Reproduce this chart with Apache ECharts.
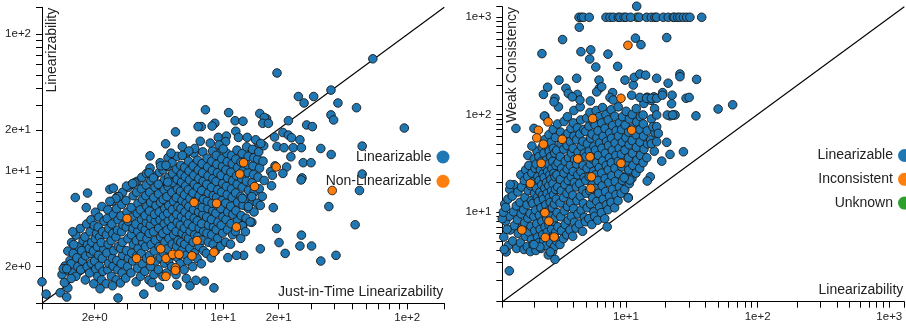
<!DOCTYPE html>
<html><head><meta charset="utf-8">
<script src="https://cdn.jsdelivr.net/npm/echarts@6/dist/echarts.min.js"></script>
<style>html,body{margin:0;padding:0;background:#fff}#c{width:906px;height:328px}</style>
</head><body><div id="c"></div>
<script>
// ---------- axis ranges & ticks ----------
const leftXRange = [1.035, 159];
const leftYRange = [1.08, 157];
const rightXRange = [1.15, 1300];
const rightYRange = [1.19, 1285];

const leftTickValues = [2,3,4,5,6,7,8,9,10,20,30,40,50,60,70,80,90,100];
const leftLabelValues = [2,10,20,100];
const leftLabelTexts = ['2e+0','1e+1','2e+1','1e+2'];
const rightTickValues = [2,3,4,5,6,7,8,9,10,20,30,40,50,60,70,80,90,100,200,300,400,500,600,700,800,900,1000];
const rightLabelValues = [10,100,1000];
const rightLabelTexts = ['1e+1','1e+2','1e+3'];

const leftCategories = ['Linearizable','Non-Linearizable'];
const rightCategories = ['Linearizable','Inconsistent','Unknown'];

// ---------- left chart data: [Just-in-Time Linearizability, Linearizability] ----------
const leftLinCore = [
[1.33,1.75],[1.38,2.02],[1.44,1.86],[1.47,2.22],[1.43,2.6],
[1.52,1.8],[1.49,2.1],[1.53,2.5],[1.5,3.0],
[1.58,1.7],[1.62,2.0],[1.6,2.32],[1.63,2.8],[1.58,3.4],
[1.68,1.9],[1.72,2.2],[1.7,2.62],[1.73,3.1],[1.67,3.8],
[1.78,1.6],[1.82,2.0],[1.79,2.4],[1.83,2.9],[1.77,3.3],[1.81,4.1],
[1.88,1.8],[1.92,2.12],[1.9,2.5],[1.87,2.72],[1.93,3.02],[1.89,3.6],[1.91,4.4],
[1.98,1.5],[2.03,1.92],[2.0,2.2],[1.97,2.6],[2.02,3.2],[2.05,3.5],[1.99,4.0],[2.02,5.0],
[2.08,1.7],[2.12,2.02],[2.1,2.42],[2.07,2.8],[2.13,3.3],[2.09,3.9],[2.11,4.6],
[2.18,1.6],[2.22,1.85],[2.2,2.3],[2.24,2.7],[2.17,3.0],[2.21,3.6],[2.25,4.3],[2.19,5.5],
[2.31,1.5],[2.36,1.9],[2.38,2.12],[2.33,2.52],[2.37,2.92],[2.32,3.42],[2.39,3.8],[2.34,4.5],[2.36,5.2],
[2.47,1.7],[2.52,2.02],[2.5,2.3],[2.54,2.62],[2.46,3.1],[2.51,3.5],[2.48,4.1],[2.53,4.8],[2.5,6.0],
[2.62,1.6],[2.67,1.9],[2.64,2.22],[2.69,2.8],[2.61,3.3],[2.66,3.7],[2.68,4.4],[2.63,5.3],[2.66,6.5],
[2.76,1.52],[2.82,1.8],[2.79,2.1],[2.84,2.42],[2.77,2.72],[2.83,3.02],[2.8,3.6],[2.85,4.02],[2.78,4.7],[2.81,5.7],[2.84,7.0],
[2.95,1.65],[3.02,2.0],[3.05,2.3],[2.98,2.62],[3.03,3.2],[2.97,3.9],[3.04,4.3],[3.0,5.0],[2.96,6.1],[3.05,7.6],
[3.15,1.8],[3.22,2.2],[3.18,2.52],[3.25,2.9],[3.17,3.42],[3.23,3.8],[3.2,4.6],[3.16,5.4],[3.24,6.6],[3.19,8.0],
[3.36,1.55],[3.42,1.95],[3.39,2.4],[3.45,2.72],[3.37,3.1],[3.43,3.62],[3.35,4.1],[3.41,4.9],[3.44,5.8],[3.38,7.0],[3.4,8.4],
[3.55,1.7],[3.63,2.1],[3.58,2.5],[3.65,3.0],[3.56,3.32],[3.62,3.9],[3.6,4.42],[3.54,5.2],[3.64,6.2],[3.59,7.4],[3.61,9.0],
[3.75,1.85],[3.83,2.3],[3.78,2.8],[3.85,3.2],[3.77,3.72],[3.82,4.2],[3.76,4.72],[3.84,5.5],[3.79,6.6],[3.81,7.9],
[3.95,1.6],[4.04,2.0],[3.98,2.42],[4.06,2.9],[3.96,3.5],[4.02,4.02],[4.05,4.5],[3.97,5.1],[4.03,5.9],[3.99,7.0],[4.04,8.5],[4.0,10.5],
[4.2,1.75],[4.3,2.2],[4.22,2.6],[4.28,3.12],[4.18,3.6],[4.27,4.3],[4.23,4.82],[4.31,5.6],[4.19,6.4],[4.26,7.6],[4.24,9.2],
[4.44,1.9],[4.55,2.32],[4.48,2.8],[4.57,3.3],[4.46,3.82],[4.53,4.4],[4.49,5.02],[4.56,5.9],[4.45,6.8],[4.52,8.0],[4.5,9.8],[4.54,11.5],
[4.7,1.7],[4.8,2.12],[4.73,2.52],[4.82,3.02],[4.69,3.5],[4.78,4.12],[4.74,4.7],[4.81,5.32],[4.72,6.2],[4.77,7.3],[4.79,8.6],[4.71,10.2],
[4.93,1.8],[5.05,2.22],[4.98,2.7],[5.07,3.22],[4.95,3.7],[5.03,4.32],[4.99,4.92],[5.06,5.6],[4.94,6.5],[5.02,7.7],[5.04,9.0],[4.97,10.8],[5.01,12.5],
[5.24,2.0],[5.36,2.42],[5.28,2.92],[5.38,3.42],[5.25,3.92],[5.33,4.5],[5.29,5.22],[5.37,6.0],[5.26,7.0],[5.34,8.2],[5.31,9.6],[5.27,11.5],
[5.54,1.75],[5.66,2.32],[5.58,2.82],[5.68,3.1],[5.55,3.62],[5.63,4.22],[5.59,4.82],[5.67,5.5],[5.56,6.4],[5.64,7.4],[5.61,8.7],[5.57,10.3],[5.62,12.8],
[5.83,2.1],[5.96,2.62],[5.88,3.02],[5.98,3.52],[5.85,4.02],[5.93,4.62],[5.89,5.32],[5.97,6.1],[5.86,7.1],[5.94,8.3],[5.91,9.5],[5.87,11.0],
[6.13,1.9],[6.27,2.42],[6.18,2.92],[6.29,3.32],[6.15,3.82],[6.24,4.42],[6.2,5.02],[6.28,5.8],[6.16,6.7],[6.25,7.8],[6.22,9.1],[6.17,10.6],[6.23,13.0],
[6.42,2.2],[6.58,2.72],[6.48,3.22],[6.6,3.62],[6.44,4.12],[6.55,4.72],[6.5,5.5],[6.59,6.3],[6.46,7.3],[6.56,8.6],[6.52,10.0],[6.47,11.8],
[6.82,2.0],[6.98,2.52],[6.87,3.02],[7.0,3.42],[6.84,3.92],[6.95,4.52],[6.9,5.22],[6.99,6.0],[6.85,6.9],[6.96,8.0],[6.92,9.3],[6.86,10.9],[6.94,13.5],
[7.21,2.3],[7.39,2.82],[7.27,3.32],[7.41,3.82],[7.23,4.32],[7.35,5.02],[7.3,5.7],[7.4,6.6],[7.25,7.6],[7.37,8.8],[7.32,10.2],[7.26,12.0],
[7.6,2.1],[7.8,2.62],[7.66,3.12],[7.82,3.62],[7.63,4.12],[7.76,4.82],[7.7,5.42],[7.81,6.2],[7.64,7.2],[7.78,8.4],[7.72,9.7],[7.67,11.3],[7.74,13.8],
[8.1,2.5],[8.3,3.02],[8.16,3.52],[8.32,4.02],[8.13,4.62],[8.26,5.32],[8.2,6.02],[8.31,6.9],[8.14,8.0],[8.27,9.2],[8.22,10.7],[8.17,12.4],
[8.6,2.32],[8.82,2.92],[8.66,3.42],[8.85,3.92],[8.63,4.42],[8.78,5.12],[8.7,5.82],[8.83,6.6],[8.64,7.6],[8.79,8.8],[8.73,10.1],[8.67,11.8],[8.75,14.0],
[9.1,2.62],[9.33,3.22],[9.16,3.72],[9.36,4.22],[9.12,4.92],[9.28,5.62],[9.2,6.42],[9.34,7.3],[9.14,8.4],[9.3,9.7],[9.23,11.2],[9.17,13.0],
[9.68,2.82],[9.93,3.52],[9.75,4.02],[9.96,4.62],[9.71,5.32],[9.88,6.12],[9.8,7.02],[9.94,8.1],[9.73,9.3],[9.9,10.8],[9.82,12.3],[9.77,14.5],
[10.3,3.02],[10.55,3.72],[10.36,4.42],[10.58,5.02],[10.32,5.82],[10.5,6.72],[10.4,7.72],[10.56,8.9],[10.34,10.2],[10.52,11.7],[10.44,13.5],
[10.95,2.92],[11.25,3.42],[11.02,4.12],[11.28,4.82],[10.98,5.52],[11.18,6.42],[11.1,7.42],[11.26,8.5],[11.0,9.8],[11.2,11.3],[11.12,13.0],
[11.65,3.62],[11.95,4.32],[11.72,5.12],[11.98,5.92],[11.68,6.92],[11.9,8.02],[11.8,9.22],[11.96,10.6],[11.7,12.2],[11.88,14.2],
[12.45,3.22],[12.78,4.02],[12.52,4.72],[12.8,5.62],[12.48,6.52],[12.7,7.62],[12.6,8.82],[12.76,10.0],[12.5,11.6],[12.68,13.4],
[13.3,4.52],[13.7,5.32],[13.42,6.22],[13.72,7.22],[13.35,8.42],[13.6,9.72],[13.5,11.1],[13.66,12.8],[13.4,15.0],
[14.3,4.22],[14.7,5.02],[14.4,6.02],[14.72,7.02],[14.35,8.22],[14.6,9.42],[14.5,10.9],[14.66,12.5],[14.42,14.4],
[15.3,5.82],[15.7,7.42],[15.45,9.02],[15.75,10.5],[15.4,12.2],[15.6,13.8],[15.55,16.0],
[16.3,6.52],[16.7,8.52],[16.45,11.8],[16.6,15.3]
];
const leftLinOutliers = [
[65,66],[19.6,52],[38.5,39],[25.6,35],[31,35],[27.5,31.4],[42,31.4],[53,29],[8,28],[10.7,26.7],[15.8,26.3],[38.5,25.7],
[39.8,23.6],[22.6,23.3],[17.2,24.1],[16.7,24.6],[16.4,22.3],[17.6,22.3],[11.6,23.3],[12.8,23.1],[9.0,22.3],[8.7,21.3],[7.6,21.1],[7.3,21.1],
[28.4,21.7],[30.5,21.1],[96.4,20.6],[5.5,19.3],[11.7,19.5],[19.0,17.7],[21.1,19.1],[22.6,18.3],[23.5,17.5],[26.1,16.9],
[4.86,15.8],[5.99,15.1],[7.0,14.6],[9.4,17.6],[10.4,18.0],[10.3,16.4],[12.1,17.6],[13.5,17.6],[15.0,16.9],[16.0,15.9],
[19.6,15.1],[21.4,14.8],[24.0,14.8],[26.6,14.8],[33.9,14.6],[56.9,15.2],[38.6,13.2],[23.3,12.7],[27.2,11.5],[30.0,11.5],
[22.1,10.7],[19.1,10.9],[21.1,9.6],[18.1,9.9],[18.5,9.3],[18.3,7.8],[56.9,9.5],[26.8,8.9],[26.5,8.6],[55,7.2],[37.5,5.5],[52.1,4.05],
[26.6,3.4],[30.2,2.83],[26.1,2.83],[33.9,2.2],[41,2.42],[21.7,2.5],[20.1,3.0],[19.5,3.8],[18.7,5.4],[15.9,5.6],[13.7,5.5],
[14.3,6.5],[12.7,6.3],[14.0,4.25],[12.7,3.98],[15.9,2.7],[12.9,2.42],[11.8,2.42],[10.6,2.33],[13.2,3.6],
[1.035,1.55],[1.09,1.26],[1.3,1.29],[1.41,1.2],[1.43,1.4],[1.37,1.53],[1.49,1.64],[1.35,1.93],[1.41,1.93],
[1.54,2.9],[1.52,3.6],[1.57,6.4],[1.83,6.9],[1.8,5.4],[2.68,1.18],[3.7,1.26],[2.14,1.38],[2.5,1.45],
[7.9,1.57],[8.9,1.4],[6.3,1.64],[6.6,1.45],[7.1,1.59],[5.6,1.47],[4.5,1.42],[4.1,1.53],
[2.42,7.35],[2.98,7.76],[3.3,8.2],[3.22,8.1],[3.83,9.6],[3.95,9.7],[4.0,12.9],[4.57,10.9],[4.88,11.0],[4.17,8.9],[4.43,8.0],[4.99,8.3],
[2.53,7.5],[2.7,6.5],[2.61,6.3],[2.42,6.0],[5.2,13.5],[6.5,14.0],[8.5,16.0],[9.5,15.5],[10.0,14.5],[6.0,13.0],[7.5,16.5]
];
const leftNonLin = [
[12.3,9.5],[14.8,7.7],[19.4,10.7],[12.9,11.5],[9.2,5.8],[6.94,5.9],[3.0,4.5],[4.57,2.7],[4.88,2.3],[5.3,2.46],
[5.75,2.46],[5.5,1.96],[5.5,1.88],[4.88,1.7],[4.03,2.22],[3.38,2.3],[8.9,2.55],[7.2,3.1],[11.8,3.9],[6.76,2.4],[39.1,7.2]
];

// ---------- right chart data: [Linearizability, Weak Consistency] ----------
const rightLinCore = [
[1.18,5.5],[1.22,8.0],[1.2,12.0],
[1.28,4.5],[1.32,6.5],[1.3,9.0],[1.27,13.5],[1.31,17.0],
[1.38,5.0],[1.42,7.2],[1.4,10.0],[1.37,14.5],[1.41,19.0],
[1.48,4.2],[1.52,6.0],[1.5,8.3],[1.47,11.5],[1.51,16.0],
[1.58,4.8],[1.62,6.8],[1.6,9.5],[1.57,12.5],[1.61,18.0],[1.59,24.0],
[1.68,4.1],[1.72,5.6],[1.7,7.7],[1.67,10.5],[1.71,14.0],[1.69,21.0],[1.73,27.0],
[1.78,4.4],[1.82,6.2],[1.8,8.6],[1.77,11.8],[1.81,16.5],[1.79,23.0],[1.83,30.0],[1.8,38.0],
[1.88,3.9],[1.92,5.2],[1.9,7.1],[1.87,9.6],[1.91,13.0],[1.89,18.5],[1.93,25.0],
[1.97,4.6],[2.03,6.4],[2.0,8.9],[1.96,12.2],[2.02,15.5],[1.99,20.5],[2.04,28.0],[2.01,35.0],
[2.07,4.0],[2.13,5.5],[2.1,7.5],[2.06,10.4],[2.12,14.0],[2.09,17.5],[2.14,23.0],[2.08,31.0],[2.11,42.0],
[2.17,4.8],[2.23,6.6],[2.2,9.2],[2.16,12.8],[2.22,16.0],[2.19,21.0],[2.24,27.0],[2.18,37.0],
[2.27,4.2],[2.33,5.8],[2.3,8.0],[2.26,11.0],[2.32,14.8],[2.29,19.0],[2.34,24.5],[2.28,33.0],[2.31,46.0],
[2.37,5.0],[2.43,7.0],[2.4,9.8],[2.36,13.5],[2.42,17.5],[2.39,22.5],[2.44,29.0],[2.38,40.0],[2.41,55.0],
[2.47,4.5],[2.53,6.2],[2.5,8.5],[2.46,11.8],[2.52,15.5],[2.49,20.0],[2.54,26.0],[2.48,34.0],[2.51,48.0],
[2.57,3.6],[2.63,5.3],[2.6,7.4],[2.56,10.2],[2.62,14.0],[2.59,18.5],[2.64,24.0],[2.58,31.0],[2.61,42.0],[2.6,62.0],
[2.67,4.8],[2.73,6.6],[2.7,9.0],[2.66,12.5],[2.72,16.5],[2.69,21.5],[2.74,28.0],[2.68,37.0],[2.71,52.0],
[2.77,3.9],[2.83,5.7],[2.8,8.0],[2.76,11.0],[2.82,15.0],[2.79,19.5],[2.84,25.0],[2.78,33.0],[2.81,45.0],[2.8,70.0],
[2.87,4.4],[2.93,6.2],[2.9,8.7],[2.86,12.0],[2.92,17.0],[2.89,23.0],[2.94,30.0],[2.88,40.0],[2.91,58.0],
[2.97,5.0],[3.04,7.0],[3.0,9.8],[2.96,13.5],[3.03,18.0],[2.99,24.0],[3.05,32.0],[2.98,43.0],[3.02,80.0],
[3.15,4.6],[3.24,6.4],[3.2,8.9],[3.16,12.3],[3.23,16.5],[3.18,21.5],[3.25,28.0],[3.17,37.0],[3.21,50.0],[3.19,66.0],
[3.35,5.3],[3.45,7.4],[3.4,10.2],[3.36,14.0],[3.44,19.0],[3.38,25.0],[3.46,33.0],[3.37,44.0],[3.42,58.0],[3.39,85.0],
[3.55,5.8],[3.65,8.2],[3.6,11.3],[3.56,15.5],[3.64,21.0],[3.58,27.5],[3.66,36.0],[3.57,48.0],[3.62,64.0],[3.59,95.0],
[3.75,6.5],[3.85,9.0],[3.8,12.5],[3.76,17.0],[3.84,23.0],[3.78,30.0],[3.86,40.0],[3.77,53.0],[3.82,72.0],
[3.94,5.6],[4.06,7.8],[4.0,10.8],[3.95,14.8],[4.05,20.0],[3.98,26.0],[4.07,34.5],[3.96,45.0],[4.03,60.0],[3.99,82.0],[4.02,110.0],
[4.18,6.8],[4.32,9.5],[4.25,13.0],[4.2,18.0],[4.3,24.0],[4.22,31.0],[4.33,41.0],[4.21,55.0],[4.28,73.0],
[4.43,7.5],[4.57,10.4],[4.5,14.5],[4.45,19.5],[4.55,26.0],[4.47,35.0],[4.58,47.0],[4.46,63.0],[4.53,88.0],[4.49,120.0],
[4.68,6.3],[4.82,8.8],[4.75,12.2],[4.7,16.8],[4.8,22.5],[4.72,30.0],[4.83,40.0],[4.71,53.0],[4.78,70.0],
[4.92,7.9],[5.08,11.0],[5.0,15.5],[4.95,21.0],[5.06,28.0],[4.97,37.0],[5.09,50.0],[4.94,67.0],[5.03,92.0],
[5.22,8.5],[5.38,12.0],[5.3,16.5],[5.25,23.0],[5.36,31.0],[5.27,42.0],[5.39,57.0],[5.24,76.0],[5.33,105.0],
[5.5,7.4],[5.7,10.0],[5.6,14.0],[5.54,19.0],[5.67,26.0],[5.57,35.0],[5.71,47.0],[5.53,63.0],[5.64,84.0],
[5.8,9.0],[6.0,12.8],[5.9,17.5],[5.84,24.0],[5.97,32.0],[5.87,43.0],[6.01,58.0],[5.83,78.0],[5.94,110.0],
[6.1,8.2],[6.3,11.2],[6.2,15.5],[6.14,21.0],[6.27,28.5],[6.17,38.0],[6.31,51.0],[6.13,68.0],[6.24,95.0],
[6.5,9.8],[6.7,13.5],[6.6,18.5],[6.54,25.0],[6.67,33.5],[6.57,45.0],[6.71,60.0],[6.53,82.0],[6.64,118.0],
[6.9,8.5],[7.1,11.8],[7.0,16.2],[6.94,22.0],[7.08,30.0],[6.97,40.0],[7.12,53.0],[6.93,72.0],[7.04,100.0],
[7.3,10.5],[7.5,14.5],[7.4,20.0],[7.34,27.0],[7.48,36.0],[7.37,48.0],[7.52,65.0],[7.33,88.0],
[7.7,12.5],[7.9,17.0],[7.8,23.5],[7.74,32.0],[7.88,43.0],[7.77,57.0],[7.92,77.0],[7.73,112.0],
[8.2,11.0],[8.4,15.0],[8.3,20.5],[8.24,28.0],[8.38,38.0],[8.27,51.0],[8.42,68.0],[8.23,96.0],
[8.7,13.0],[8.9,18.0],[8.8,24.5],[8.74,33.0],[8.88,45.0],[8.77,60.0],[8.92,82.0],[8.73,120.0],
[9.2,15.5],[9.4,21.0],[9.3,29.0],[9.24,39.0],[9.38,52.0],[9.27,70.0],[9.42,95.0],
[9.8,17.0],[10.0,23.5],[9.9,32.0],[9.84,43.0],[9.98,58.0],[9.87,78.0],[10.02,108.0],
[10.4,14.0],[10.6,19.5],[10.5,27.0],[10.44,36.0],[10.58,49.0],[10.47,66.0],[10.62,90.0],
[11.1,22.0],[11.3,30.0],[11.2,40.0],[11.14,54.0],[11.28,73.0],[11.17,100.0],
[11.9,25.0],[12.1,34.0],[12.0,46.0],[11.94,62.0],[12.08,84.0],[11.97,115.0],
[12.7,28.0],[12.9,38.0],[12.8,52.0],[12.74,70.0],[12.88,95.0],
[13.5,32.0],[13.7,44.0],[13.6,60.0],[13.54,80.0],[13.68,130.0],
[14.4,36.0],[14.6,50.0],[14.5,68.0],[14.45,150.0],
[15.4,55.0],[15.6,90.0],[15.5,140.0],
[16.4,42.0],[16.6,65.0],[16.5,115.0]
];
const rightTimeoutX = [4.4,4.6,4.75,5.26,7.05,7.56,8.01,8.74,9.0,9.66,10.0,10.86,12.6,14.35,15.6,16.6,17.1,19.2,20.96,22.9,23.3,24.7,25.7,27.3,28.9,30.6,37.6];
const rightTimeoutY = 1000;
const rightLinOutliers = [
[12.06,1300],[4.42,790],[3.3,590],[2.3,423],[4.55,443],[5.4,462],[5.3,372],[5.9,308],[7.3,418],[8.65,313],[11.8,610],[13.0,523],[20.4,618],
[3.1,226],[4.22,236],[6.24,226],[2.54,191],[2.36,161],[3.5,186],[3.65,165],[4.27,161],[2.89,147],[4.47,141],[5.36,138],[6.27,186],
[7.92,168],[9.83,226],[11.36,201],[11.56,241],[12.76,261],[14.1,254],[17.1,236],[20.9,210],[25.7,261],[25.7,245],[28.6,147],
[22.4,158],[19.0,168],[14.5,150],[16.3,152],[3.07,120],[2.84,135],[2.42,96],[3.91,152],[5.99,171],[6.54,193],[7.56,150],[8.0,141],
[11.05,158],[12.76,150],[14.35,147],[15.6,147],[17.1,147],[18.9,158],[22.2,129],[13.5,99],[17.1,99],[22.9,99],[23.6,99],
[34.4,230],[30.2,150],[50.1,114],[64.6,126],[34,97],[21.6,97],[20.6,99],[22.6,99],[16.0,75],[17.1,75],[17.6,64],[15.6,50],
[17.1,52.5],[20.4,51.8],[21.6,38.9],[27.3,41.4],[18.7,33.2],[15.3,22.9],[14.5,20.7],[10.4,13.9],[10.7,21.2],[9.7,22.4],
[7.2,7.0],[2.89,3.24],[1.3,2.47],[1.23,3.87],[1.19,4.1],[1.25,6.6],[1.15,8.5],[1.17,9.9],[1.22,11.1],[1.32,19.1],
[1.46,72],[1.93,47.4],[2.0,72],[2.4,96.5],[2.66,3.87],[2.22,4.36],[2.0,4.6]
];
const rightInconsistent = [
[10.35,515],[9.16,147],[2.16,69],[2.1,57.6],[2.36,49.6],[2.56,84],[2.27,31.5],[1.88,19.6],[2.42,9.8],[2.44,5.45],
[2.85,5.5],[5.58,91],[11.05,69],[9.16,31.5],[5.46,22.9],[1.62,6.5],[3.28,55.6],[5.33,36.8],[5.4,17.4],[2.6,8.0],[4.3,35]
];
const rightUnknown = [[12.1,1000]];

// ---------- build ----------
const FONT = '"Liberation Sans", Arial, Helvetica, sans-serif';
const TXT = '#222';
const BLUE = '#1f77b4', ORANGE = '#ff7f0e', GREEN = '#2ca02c';
const L = {left: 42, top: 7.3, width: 402.3, height: 296};
const R = {left: 502.3, top: 6.7, width: 402, height: 295};

function logAxis(gridIndex, range, ticks, labelVals, labelTexts, isX) {
  const tickVals = [range[0] * 1.0005].concat(ticks.filter(v => v > range[0] && v < range[1]), [range[1] * 0.9995]);
  return {
    type: 'log', logBase: 10, gridIndex: gridIndex, min: range[0], max: range[1],
    axisLine: {show: true, onZero: false, lineStyle: {color: '#000', width: 1}},
    axisTick: {show: true, customValues: tickVals, length: 6, inside: false, lineStyle: {color: '#000', width: 1}},
    axisLabel: {
      show: true, customValues: labelVals, margin: isX ? 9 : 11,
      fontSize: 11.5, fontFamily: FONT, color: TXT,
      formatter: function (v) {
        for (let i = 0; i < labelVals.length; i++) {
          if (Math.abs(v - labelVals[i]) < labelVals[i] * 1e-3) return labelTexts[i];
        }
        return '';
      }
    },
    splitLine: {show: false}, minorTick: {show: false}, minorSplitLine: {show: false}
  };
}

function scatter(name, xi, data, color, z) {
  return {
    type: 'scatter', name: name, xAxisIndex: xi, yAxisIndex: xi, data: data, z: z,
    symbol: 'circle', symbolSize: 8.6, clip: false, silent: true,
    itemStyle: {color: color, borderColor: '#1a1a1a', borderWidth: 0.9, opacity: 1}
  };
}

function diag(xi, xr, yr) {
  return {
    type: 'line', xAxisIndex: xi, yAxisIndex: xi, data: [[xr[0], yr[0]], [xr[1], yr[1]]],
    symbol: 'none', silent: true, z: 1, clip: false,
    lineStyle: {color: '#000', width: 1.1}
  };
}

const rightTimeouts = rightTimeoutX.map(x => [x, rightTimeoutY]);

const legendBase = {
  orient: 'vertical', align: 'right', icon: 'circle', itemWidth: 13, itemHeight: 13,
  textStyle: {fontSize: 14, fontFamily: FONT, color: TXT}, itemStyle: {borderWidth: 0},
  selectedMode: false
};

const option = {
  animation: false,
  backgroundColor: '#fff',
  grid: [
    {left: L.left, top: L.top, width: L.width, height: L.height, containLabel: false},
    {left: R.left, top: R.top, width: R.width, height: R.height, containLabel: false}
  ],
  xAxis: [
    logAxis(0, leftXRange, leftTickValues, leftLabelValues, leftLabelTexts, true),
    logAxis(1, rightXRange, rightTickValues, rightLabelValues, rightLabelTexts, true)
  ],
  yAxis: [
    logAxis(0, leftYRange, leftTickValues, leftLabelValues, leftLabelTexts, false),
    logAxis(1, rightYRange, rightTickValues, rightLabelValues, rightLabelTexts, false)
  ],
  legend: [
    Object.assign({}, legendBase, {data: leftCategories, right: 451.5, top: 145, itemGap: 10.3}),
    Object.assign({}, legendBase, {data: rightCategories, right: -10, top: 143.5, itemGap: 9.8})
  ],
  series: [
    diag(0, leftXRange, leftYRange),
    scatter(leftCategories[0], 0, leftLinCore.concat(leftLinOutliers), BLUE, 2),
    scatter(leftCategories[1], 0, leftNonLin, ORANGE, 3),
    diag(1, rightXRange, rightYRange),
    scatter(rightCategories[2], 1, rightUnknown, GREEN, 1.5),
    scatter(rightCategories[0], 1, rightLinCore.concat(rightLinOutliers, rightTimeouts), BLUE, 2),
    scatter(rightCategories[1], 1, rightInconsistent, ORANGE, 3)
  ],
  graphic: [
    {type: 'text', x: L.left + 9.7, y: L.top + 0.5, rotation: Math.PI / 2, silent: true,
     style: {text: 'Linearizability', align: 'right', verticalAlign: 'middle', fontSize: 14, fontFamily: FONT, fill: TXT}},
    {type: 'text', x: L.left + L.width - 1, y: L.top + L.height - 11, silent: true,
     style: {text: 'Just-in-Time Linearizability', align: 'right', verticalAlign: 'middle', fontSize: 14, fontFamily: FONT, fill: TXT}},
    {type: 'text', x: R.left + 9.4, y: R.top + 0.3, rotation: Math.PI / 2, silent: true,
     style: {text: 'Weak Consistency', align: 'right', verticalAlign: 'middle', fontSize: 14, fontFamily: FONT, fill: TXT}},
    {type: 'text', x: R.left + R.width - 1, y: R.top + R.height - 11.7, silent: true,
     style: {text: 'Linearizability', align: 'right', verticalAlign: 'middle', fontSize: 14, fontFamily: FONT, fill: TXT}}
  ]
};

const chart = echarts.init(document.getElementById('c'), null, {renderer: 'canvas'});
chart.setOption(option);
</script>
</body></html>
